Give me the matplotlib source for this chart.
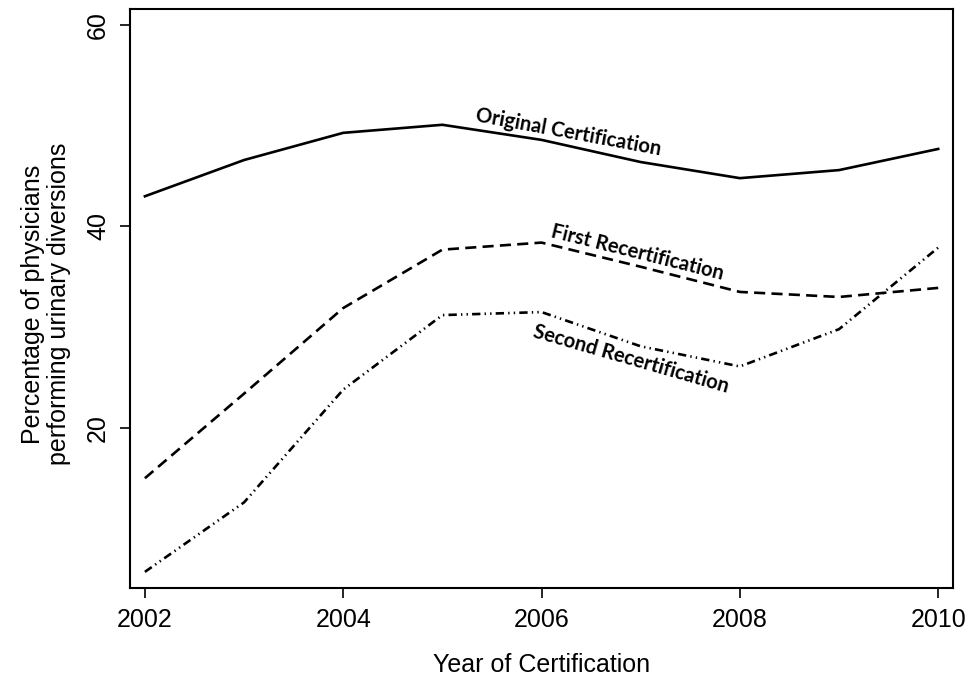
import matplotlib
matplotlib.use("Agg")
import matplotlib.pyplot as plt

plt.rcParams["font.family"] = "Liberation Sans"
plt.rcParams["lines.scale_dashes"] = False

years = [2002, 2003, 2004, 2005, 2006, 2007, 2008, 2009, 2010]
original = [43.0, 46.6, 49.3, 50.1, 48.6, 46.4, 44.8, 45.6, 47.7]
first_recert = [15.0, 23.4, 31.9, 37.7, 38.4, 36.0, 33.5, 33.0, 33.9]
second_recert = [5.7, 12.6, 23.8, 31.2, 31.5, 28.1, 26.1, 29.8, 37.9]

fig = plt.figure(figsize=(9.74, 6.86), dpi=100)
ax = fig.add_axes([0.1335, 0.1429, 0.845, 0.844])

ax.plot(years, original, color="black", linewidth=1.9, solid_joinstyle="round")
ax.plot(years, first_recert, color="black", linewidth=1.9, dashes=(8, 4.5))
ax.plot(years, second_recert, color="black", linewidth=1.9,
        dashes=(6, 3, 1, 3, 1, 3))

# inline series labels
lab = dict(fontsize=14.5, fontweight="bold", family="Lato", ha="center",
           va="center", rotation_mode="anchor")
ax.text(2006.27, 49.4, "Original Certification", rotation=-10.5, **lab)
ax.text(2006.97, 37.4, "First Recertification", rotation=-14, **lab)
ax.text(2006.9, 26.8, "Second Recertification", rotation=-16, **lab)

ax.set_xlim(2001.85, 2010.15)
ax.set_ylim(4.1, 61.6)
ax.set_xticks([2002, 2004, 2006, 2008, 2010])
ax.set_yticks([20, 40, 60])
ax.tick_params(axis="both", direction="out", length=7.5, width=1.2,
               labelsize=18, pad=7)
for lbl in ax.get_yticklabels():
    lbl.set_rotation(90)
    lbl.set_va("center")
for s in ax.spines.values():
    s.set_linewidth(1.5)

ax.set_xlabel("Year of Certification", fontsize=18)
ax.xaxis.set_label_coords(0.5, -0.113)
ax.set_ylabel("Percentage of physicians\nperforming urinary diversions",
              fontsize=18, linespacing=1.1)
ax.yaxis.set_label_coords(-0.072, 0.49)

fig.savefig("out.png", dpi=100)
